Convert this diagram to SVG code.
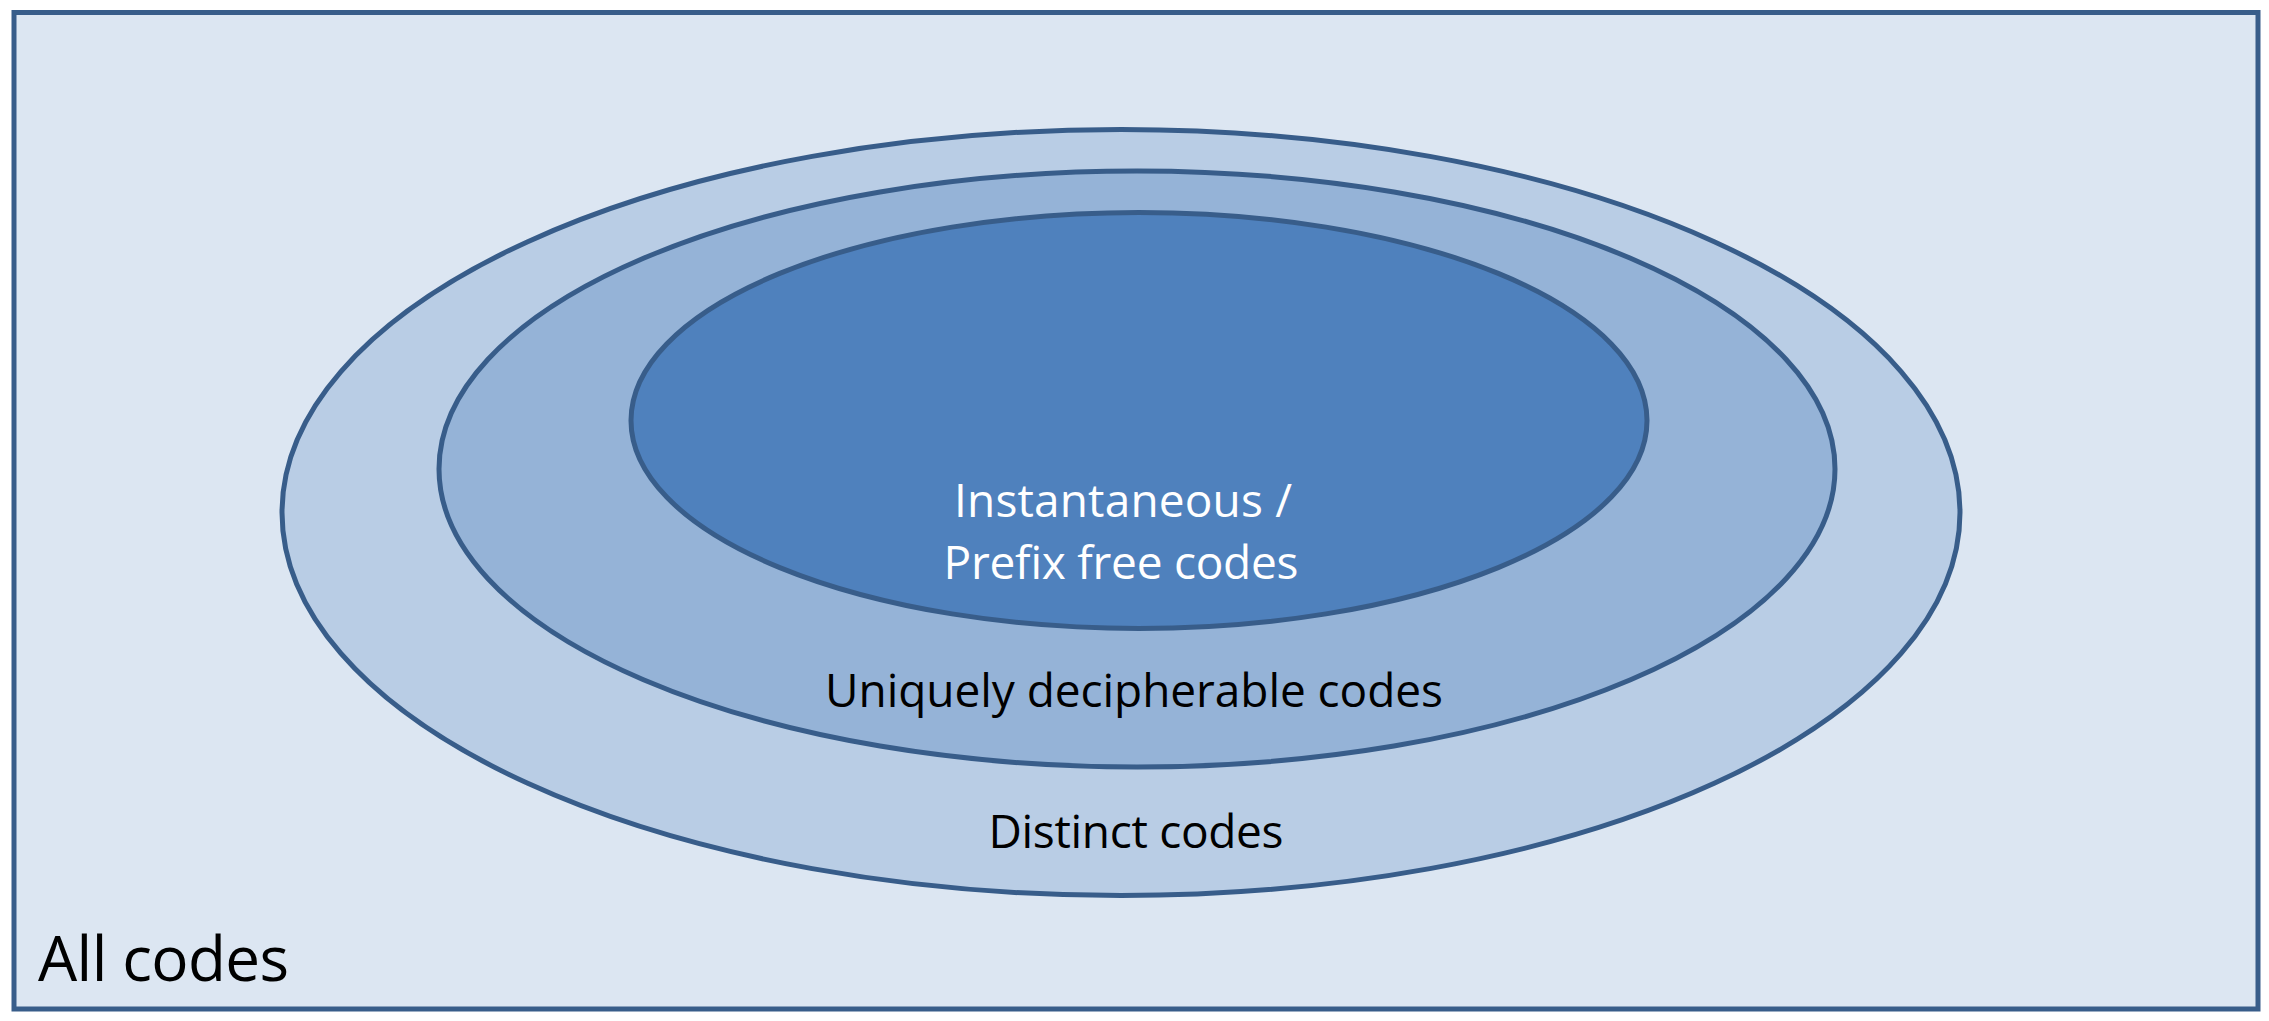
<svg xmlns="http://www.w3.org/2000/svg" width="2269" height="1021" viewBox="0 0 2269 1021">
<style>
.sh{stroke:#385D8A;stroke-width:5}
.t{font-family:"Open Sans","Noto Sans",sans-serif;text-anchor:middle}
</style>
<rect width="2269" height="1021" fill="#ffffff"/>
<g id="all-codes">
<rect class="sh" x="14" y="12.5" width="2244" height="996.5" fill="#DCE6F2"/>
<text class="t" x="38" y="981" font-size="62" style="text-anchor:start" textLength="251">All codes</text>
</g>
<g id="distinct-codes">
<ellipse class="sh" cx="1121" cy="512.5" rx="839" ry="383" fill="#B9CDE5"/>
<text class="t" x="1136" y="848" font-size="46" textLength="295">Distinct codes</text>
</g>
<g id="uniquely-decipherable-codes">
<ellipse class="sh" cx="1137" cy="469" rx="698" ry="298" fill="#95B3D7"/>
<text class="t" x="1134" y="707" font-size="46" textLength="618">Uniquely decipherable codes</text>
</g>
<g id="instantaneous-codes">
<ellipse class="sh" cx="1139" cy="420.5" rx="508" ry="208" fill="#4F81BD"/>
<text class="t" x="1123" y="517" font-size="46" fill="#ffffff" textLength="338">Instantaneous /</text>
<text class="t" x="1121" y="579" font-size="46" fill="#ffffff" textLength="355">Prefix free codes</text>
</g>
<g id="connectors"/>
</svg>
